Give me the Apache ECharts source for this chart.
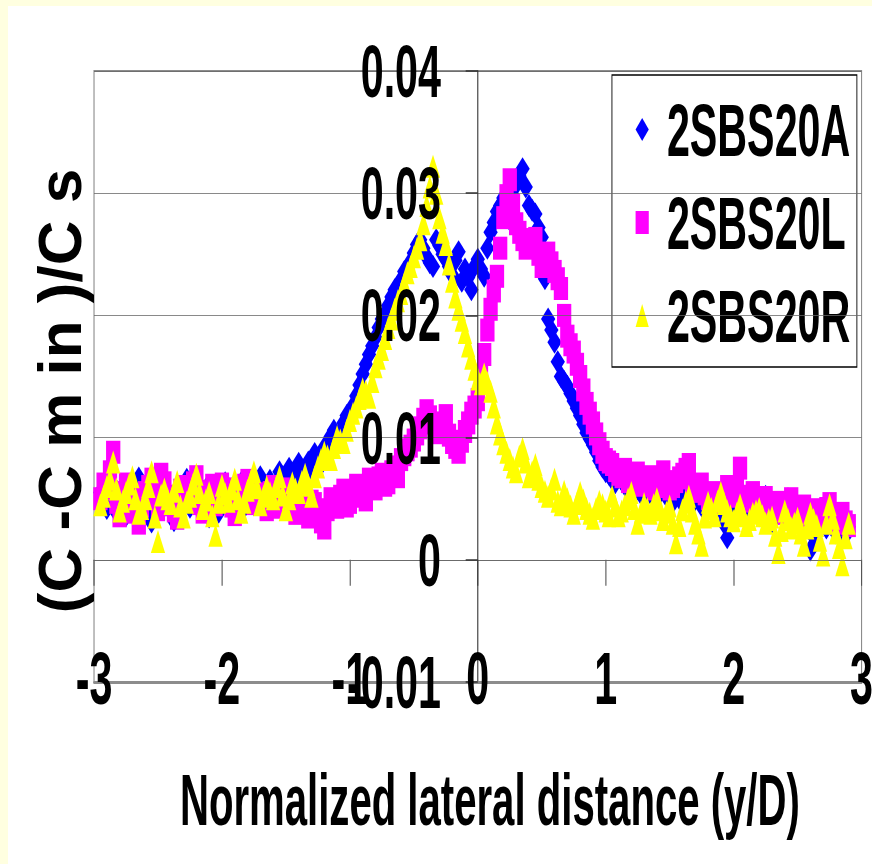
<!DOCTYPE html>
<html><head><meta charset="utf-8">
<script src="https://cdn.jsdelivr.net/npm/echarts@6/dist/echarts.min.js"></script>
<style>
html,body{margin:0;padding:0;width:872px;height:864px;overflow:hidden;background:#FFFFE0;}
#panel{position:absolute;left:8px;top:6px;right:0;bottom:0;background:#ffffff;}
#chart{position:absolute;left:0;top:0;width:1586px;height:864px;transform:scaleX(0.549811);transform-origin:0 0;}
</style></head><body>
<div id="panel"></div><div id="chart"></div>
<script>
const S = 872 / 1586;
const FONT = '"Liberation Sans", Arial, sans-serif';

const xValues = [
-2.95,-2.9,-2.85,-2.8,-2.75,-2.7,-2.65,-2.6,-2.55,-2.5,
-2.45,-2.4,-2.35,-2.3,-2.25,-2.2,-2.15,-2.1,-2.05,-2,
-1.95,-1.9,-1.85,-1.8,-1.75,-1.7,-1.65,-1.6,-1.55,-1.5,
-1.45,-1.4,-1.35,-1.3,-1.25,-1.2,-1.15,-1.1,-1.05,-1,
-0.95,-0.9,-0.85,-0.8,-0.75,-0.7,-0.65,-0.6,-0.55,-0.5,
-0.45,-0.4,-0.35,-0.3,-0.25,-0.2,-0.15,-0.1,-0.05,0,
0.05,0.1,0.15,0.2,0.25,0.3,0.35,0.4,0.45,0.5,
0.55,0.6,0.65,0.7,0.75,0.8,0.85,0.9,0.95,1,
1.05,1.1,1.15,1.2,1.25,1.3,1.35,1.4,1.45,1.5,
1.55,1.6,1.65,1.7,1.75,1.8,1.85,1.9,1.95,2,
2.05,2.1,2.15,2.2,2.25,2.3,2.35,2.4,2.45,2.5,
2.55,2.6,2.65,2.7,2.75,2.8,2.85,2.9];

const xMid = [
-2.925,-2.875,-2.825,-2.775,-2.725,-2.675,-2.625,-2.575,-2.525,-2.475,
-2.425,-2.375,-2.325,-2.275,-2.225,-2.175,-2.125,-2.075,-2.025,-1.975,
-1.925,-1.875,-1.825,-1.775,-1.725,-1.675,-1.625,-1.575,-1.525,-1.475,
-1.425,-1.375,-1.325,-1.275,-1.225,-1.175,-1.125,-1.075,-1.025,-0.975,
-0.925,-0.875,-0.825,-0.775,-0.725,-0.675,-0.625,-0.575,-0.525,-0.475,
-0.425,-0.375,-0.325,-0.275,-0.225,-0.175,-0.125,-0.075,-0.025,0.025,
0.075,0.125,0.175,0.225,0.275,0.325,0.375,0.425,0.475,0.525,
0.575,0.625,0.675,0.725,0.775,0.825,0.875,0.925,0.975,1.025,
1.075,1.125,1.175,1.225,1.275,1.325,1.375,1.425,1.475,1.525,
1.575,1.625,1.675,1.725,1.775,1.825,1.875,1.925,1.975,2.025,
2.075,2.125,2.175,2.225,2.275,2.325,2.375,2.425,2.475,2.525,
2.575,2.625,2.675,2.725,2.775,2.825,2.875];

const seriesA = [
0.0055,0.0042,0.0061,0.0048,0.0036,0.0058,0.0067,0.0044,0.0031,0.0052,
0.0060,0.0047,0.0038,0.0056,0.0043,0.0062,0.0050,0.0035,0.0054,0.0046,
0.0059,0.0040,0.0063,0.0052,0.0045,0.0068,0.0057,0.0049,0.0072,0.0061,
0.0066,0.0079,0.0070,0.0074,0.0083,0.0092,0.0101,0.0098,0.0112,0.0120,
0.0134,0.0152,0.0168,0.0182,0.0197,0.0208,0.0221,0.0229,0.0238,0.0251,
0.0262,0.0248,0.0240,0.0257,0.0246,0.0233,0.0252,0.0238,0.0221,0.0246,
0.0232,0.0268,0.0285,0.0296,0.0278,0.0307,0.0320,0.0290,0.0283,0.0264,
0.0197,0.0178,0.0150,0.0142,0.0130,0.0118,0.0104,0.0094,0.0081,0.0072,
0.0066,0.0069,0.0061,0.0064,0.0058,0.0055,0.0060,0.0052,0.0057,0.0049,
0.0054,0.0046,0.0058,0.0051,0.0044,0.0053,0.0048,0.0041,0.0018,0.0045,
0.0038,0.0047,0.0042,0.0036,0.0052,0.0031,0.0046,0.0039,0.0028,0.0036,
0.0041,0.0008,0.0025,0.0038,0.0030,0.0022,0.0034,0.0027];

const seriesAMid = [
0.0047,0.0070,0.0039,0.0053,0.0045,0.0062,0.0051,0.0038,0.0064,0.0044,
0.0054,0.0032,0.0049,0.0066,0.0052,0.0041,0.0058,0.0047,0.0039,0.0063,
0.0050,0.0056,0.0043,0.0061,0.0053,0.0047,0.0065,0.0055,0.0068,0.0075,
0.0071,0.0063,0.0080,0.0087,0.0078,0.0095,0.0106,0.0104,0.0118,0.0126,
0.0143,0.0160,0.0175,0.0190,0.0201,0.0215,0.0224,0.0236,0.0244,0.0258,
0.0255,0.0243,0.0262,0.0250,0.0240,0.0245,0.0228,0.0231,0.0240,0.0238,
0.0255,0.0276,0.0290,0.0285,0.0298,0.0314,0.0305,0.0286,0.0272,0.0230,
0.0188,0.0162,0.0146,0.0136,0.0124,0.0111,0.0099,0.0088,0.0076,0.0070,
0.0063,0.0065,0.0059,0.0062,0.0054,0.0058,0.0050,0.0055,0.0052,0.0047,
0.0056,0.0050,0.0045,0.0049,0.0055,0.0043,0.0050,0.0030,0.0044,0.0040,
0.0044,0.0035,0.0048,0.0040,0.0049,0.0034,0.0043,0.0050,0.0032,0.0039,
0.0030,0.0019,0.0035,0.0026,0.0033,0.0029,0.0020];

const seriesL = [
0.0050,0.0058,0.0088,0.0036,0.0062,0.0047,0.0030,0.0055,0.0066,0.0041,
0.0063,0.0052,0.0034,0.0060,0.0048,0.0068,0.0039,0.0056,0.0045,0.0062,
0.0050,0.0037,0.0058,0.0065,0.0046,0.0054,0.0041,0.0060,0.0049,0.0056,
0.0052,0.0045,0.0040,0.0048,0.0038,0.0026,0.0050,0.0043,0.0057,0.0047,
0.0061,0.0052,0.0066,0.0058,0.0070,0.0063,0.0076,0.0082,0.0090,0.0098,
0.0108,0.0122,0.0112,0.0104,0.0118,0.0096,0.0088,0.0105,0.0120,0.0131,
0.0168,0.0205,0.0232,0.0280,0.0311,0.0275,0.0262,0.0258,0.0263,0.0240,
0.0251,0.0236,0.0222,0.0183,0.0170,0.0150,0.0128,0.0112,0.0095,0.0082,
0.0078,0.0070,0.0074,0.0066,0.0071,0.0063,0.0068,0.0060,0.0072,0.0058,
0.0064,0.0070,0.0078,0.0056,0.0062,0.0050,0.0055,0.0047,0.0060,0.0052,
0.0075,0.0048,0.0055,0.0044,0.0051,0.0040,0.0047,0.0038,0.0050,0.0036,
0.0044,0.0032,0.0041,0.0035,0.0046,0.0030,0.0038,0.0028];

const seriesLMid = [
0.0062,0.0072,0.0047,0.0055,0.0039,0.0052,0.0044,0.0060,0.0052,0.0070,
0.0045,0.0040,0.0057,0.0051,0.0063,0.0046,0.0053,0.0061,0.0050,0.0058,
0.0044,0.0052,0.0061,0.0053,0.0049,0.0047,0.0055,0.0043,0.0058,0.0050,
0.0038,0.0044,0.0035,0.0046,0.0031,0.0041,0.0048,0.0052,0.0044,0.0055,
0.0058,0.0049,0.0060,0.0067,0.0061,0.0072,0.0068,0.0086,0.0093,0.0103,
0.0115,0.0117,0.0108,0.0110,0.0102,0.0092,0.0097,0.0112,0.0125,0.0150,
0.0188,0.0220,0.0255,0.0298,0.0290,0.0268,0.0255,0.0262,0.0250,0.0246,
0.0243,0.0230,0.0200,0.0176,0.0160,0.0139,0.0120,0.0103,0.0088,0.0080,
0.0073,0.0068,0.0064,0.0069,0.0061,0.0066,0.0058,0.0065,0.0062,0.0060,
0.0067,0.0074,0.0060,0.0058,0.0054,0.0052,0.0049,0.0053,0.0056,0.0058,
0.0052,0.0050,0.0047,0.0049,0.0043,0.0045,0.0041,0.0044,0.0040,0.0042,
0.0038,0.0036,0.0039,0.0042,0.0034,0.0033,0.0031];

const seriesR = [
0.0045,0.0060,0.0080,0.0040,0.0055,0.0068,0.0038,0.0050,0.0072,0.0015,
0.0058,0.0046,0.0064,0.0035,0.0052,0.0070,0.0042,0.0055,0.0020,0.0061,
0.0048,0.0066,0.0039,0.0057,0.0072,0.0045,0.0060,0.0050,0.0068,0.0041,
0.0063,0.0055,0.0070,0.0052,0.0076,0.0088,0.0082,0.0101,0.0096,0.0114,
0.0125,0.0140,0.0133,0.0158,0.0172,0.0190,0.0205,0.0218,0.0235,0.0248,
0.0262,0.0290,0.0322,0.0280,0.0258,0.0228,0.0205,0.0186,0.0165,0.0148,
0.0152,0.0138,0.0112,0.0095,0.0082,0.0072,0.0091,0.0068,0.0078,0.0060,
0.0052,0.0066,0.0045,0.0050,0.0038,0.0055,0.0042,0.0034,0.0048,0.0040,
0.0052,0.0036,0.0045,0.0055,0.0030,0.0046,0.0038,0.0050,0.0033,0.0044,
0.0014,0.0041,0.0052,0.0030,0.0012,0.0047,0.0036,0.0055,0.0040,0.0032,
0.0045,0.0028,0.0038,0.0042,0.0030,0.0035,0.0006,0.0040,0.0026,0.0034,
0.0012,0.0038,0.0028,0.0004,0.0045,0.0022,-0.0004,0.0030];

const seriesRMid = [
0.0052,0.0066,0.0058,0.0048,0.0062,0.0050,0.0042,0.0060,0.0035,0.0053,
0.0050,0.0056,0.0044,0.0047,0.0062,0.0055,0.0049,0.0036,0.0047,0.0054,
0.0058,0.0050,0.0047,0.0064,0.0059,0.0052,0.0055,0.0060,0.0053,0.0050,
0.0058,0.0064,0.0061,0.0068,0.0082,0.0085,0.0092,0.0098,0.0106,0.0120,
0.0132,0.0138,0.0146,0.0165,0.0181,0.0197,0.0212,0.0226,0.0240,0.0255,
0.0275,0.0305,0.0300,0.0268,0.0242,0.0215,0.0196,0.0175,0.0156,0.0144,
0.0145,0.0125,0.0103,0.0088,0.0076,0.0085,0.0080,0.0072,0.0066,0.0056,
0.0058,0.0048,0.0056,0.0044,0.0046,0.0049,0.0038,0.0042,0.0045,0.0036,
0.0044,0.0040,0.0050,0.0042,0.0039,0.0042,0.0045,0.0041,0.0039,0.0030,
0.0028,0.0047,0.0040,0.0022,0.0035,0.0042,0.0048,0.0046,0.0036,0.0038,
0.0036,0.0033,0.0040,0.0036,0.0033,0.0020,0.0024,0.0033,0.0030,0.0022,
0.0026,0.0033,0.0016,0.0030,0.0034,0.0010,0.0018];

const seriesNames = ['2SBS20A', '2SBS20L', '2SBS20R'];
const seriesColors = ['#0000FF', '#FF00FF', '#FFFF00'];
const seriesSymbols = ['diamond', 'rect', 'triangle'];
const seriesMain = [seriesA, seriesL, seriesR];
const seriesMidVals = [seriesAMid, seriesLMid, seriesRMid];
const yTitle = '(C -C m in )/C s';
const xTitle = 'Normalized lateral distance (y/D)';

const chart = echarts.init(document.getElementById('chart'), null, {renderer: 'svg', width: 1586, height: 864});

const gridLeft = 171, gridRight = 19;
const plotWidth = 1586 - gridLeft - gridRight;

const option = {
  animation: false,
  backgroundColor: 'transparent',
  textStyle: {fontFamily: FONT},
  grid: {left: gridLeft, right: gridRight, top: 71, bottom: 182, show: true, borderColor: '#8c8c8c', borderWidth: 2,
         backgroundColor: 'transparent', containLabel: false, outerBoundsMode: 'none'},
  legend: {
    orient: 'vertical', left: 1113, top: 75, padding: [17, 12, 14, 43], itemGap: 18,
    itemWidth: 24, itemHeight: 23, backgroundColor: '#ffffff', borderColor: '#000000', borderWidth: 1.6,
    textStyle: {color: '#000', fontSize: 75, fontWeight: 'bold', fontFamily: FONT, padding: [0, 0, 0, 28], lineHeight: 75},
    data: seriesNames.map((n, i) => ({name: n, icon: seriesSymbols[i]}))
  },
  xAxis: [
    {type: 'value', min: -3, max: 3, interval: 1, position: 'bottom', z: 10,
     axisLine: {show: true, onZero: false, lineStyle: {color: '#8c8c8c', width: 3}},
     axisTick: {show: false}, splitLine: {show: false},
     axisLabel: {margin: -42, color: '#000', fontSize: 75, fontWeight: 'bold', fontFamily: FONT},
     name: xTitle, nameLocation: 'middle', nameGap: 81,
     nameTextStyle: {color: '#000', fontSize: 73, fontWeight: 'bold', fontFamily: FONT, padding: [0, 0, 0, 44]}},
    {type: 'value', min: -3, max: 3, interval: 1, position: 'bottom',
     axisLine: {show: true, onZero: true, lineStyle: {color: '#555', width: 1}},
     axisTick: {show: true, inside: false, length: 26, lineStyle: {color: '#555', width: 2}},
     axisLabel: {show: false}, splitLine: {show: false}}
  ],
  yAxis: {type: 'value', min: -0.01, max: 0.04, interval: 0.01, position: 'left', offset: -plotWidth / 2, z: 10,
    axisLine: {show: true, onZero: false, lineStyle: {color: '#333', width: 2}},
    axisTick: {show: true, length: 22, lineStyle: {color: '#333', width: 1.5}},
    axisLabel: {margin: 67, fontSize: 75, fontWeight: 'bold', color: '#000', fontFamily: FONT, padding: [6, 0, 0, 0]},
    splitLine: {show: true, lineStyle: {color: '#666', width: 1}}},
  graphic: [{
    type: 'text', x: 108, y: 391, rotation: Math.PI / 2, scaleY: 1 / S, silent: true,
    style: {text: yTitle, fill: '#000', fontSize: 62, fontWeight: 'bold', fontFamily: FONT, align: 'center', verticalAlign: 'middle'}
  }],
  series: seriesNames.map((n, i) => ({
    name: n, type: 'scatter', xAxisIndex: 0, yAxisIndex: 0,
    symbol: seriesSymbols[i], symbolSize: [26, 23],
    itemStyle: {color: seriesColors[i], opacity: 1},
    data: xValues.map((x, k) => [x, seriesMain[i][k]])
      .concat(xMid.map((x, k) => [x, seriesMidVals[i][k]]))
  }))
};
chart.setOption(option);
</script>
</body></html>
